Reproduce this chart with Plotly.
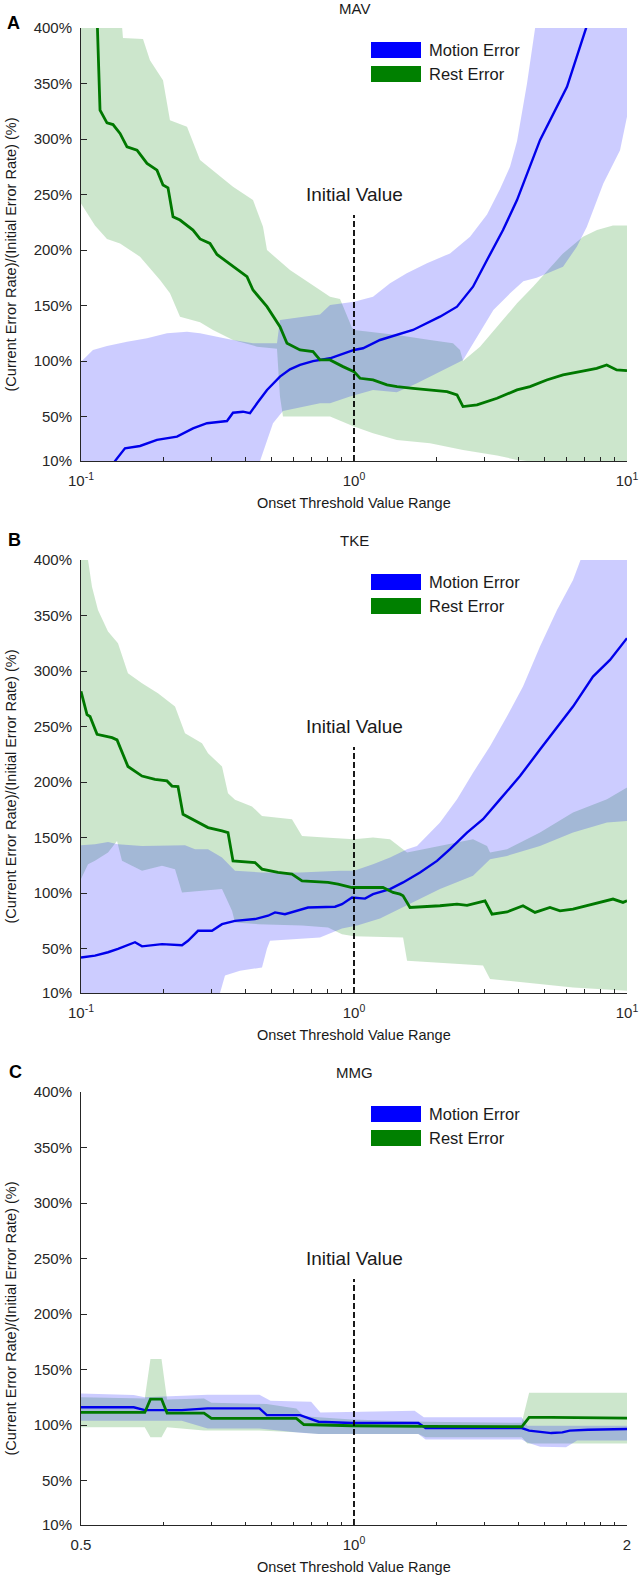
import math
import plotly.graph_objects as go

# ---------------- data: Panel A (MAV) ----------------
A_motion_x = [0.1299, 0.1332, 0.1449, 0.1645, 0.1898, 0.2247, 0.2572, 0.2894, 0.3426, 0.3604, 0.3921,
              0.4159, 0.4414, 0.4801, 0.5356, 0.5828, 0.6342, 0.7077, 0.817, 1.0, 1.0789, 1.2453, 1.6447,
              2.0654, 2.3844, 2.7289, 3.071, 3.5146, 3.9546, 4.4119, 4.8003, 6.0284, 7.1372, 8.0]
A_motion_y = [3, 10, 21.4, 23.5, 29, 32, 39.4, 44, 46, 53.5, 54.4, 53, 62, 74, 86, 92.6, 96.5, 100, 102.5,
              110, 111.5, 119, 128, 140, 149, 167, 191, 218, 245, 275, 299, 347, 400, 440]
A_rest_x = [0.1142, 0.1174, 0.1245, 0.1310, 0.1390, 0.1474, 0.1604, 0.1745, 0.1898, 0.1997, 0.2083, 0.2173,
            0.2305, 0.2572, 0.2729, 0.2968, 0.3149, 0.3604, 0.4056, 0.4266, 0.4801, 0.5356, 0.5682, 0.6342,
            0.7077, 0.7506, 0.817, 0.9114, 1.0, 1.052, 1.1739, 1.3211, 1.4378, 1.6447, 1.8984, 2.1914,
            2.3844, 2.508, 2.8223, 3.3411, 3.9546, 4.4119, 5.0795, 5.8286, 6.7271, 7.7446, 8.4265, 9.168, 10.0]
A_rest_y = [420, 326, 314.5, 313, 305, 293, 290, 278, 272, 258.6, 256, 230, 227, 218, 210, 206, 196, 185,
            176, 164, 149, 131, 116, 110, 108.5, 101, 101, 95, 90.5, 84.5, 83, 78.5, 77, 75.5, 74, 72.5,
            69.5, 59, 60.5, 66.5, 74, 77, 83, 87.5, 90.5, 93.5, 96.5, 92, 91.4]
A_motion_hi_x = [0.1, 0.1106, 0.1245, 0.1474, 0.1745, 0.2065, 0.2445, 0.2729, 0.3149, 0.3604, 0.4266, 0.5223,
                 0.5356, 0.7506, 0.817, 1.0, 1.1739, 1.355, 1.56, 1.85, 2.2475, 2.6607, 3.071, 3.4268, 3.7276,
                 3.9546, 4.3024, 4.602, 4.8003, 10.0]
A_motion_hi_y = [99.5, 110, 113.6, 117.5, 120.5, 125, 126.5, 125, 122, 119, 116, 116, 137, 142, 150.5, 153.5,
                 158, 170, 179, 188, 197, 212, 232, 255, 275, 298, 350, 400, 430, 430]
A_motion_lo_x = [0.1, 0.4414, 0.4527, 0.4801, 0.505, 0.5493, 0.6342, 0.7506, 0.817, 0.9667, 1.174, 1.435, 1.70,
                 1.898, 2.13, 2.38, 2.51, 2.82, 3.24, 3.73, 4.17, 4.67, 5.83, 6.55, 7.13, 8.19, 9.43, 10.0]
A_motion_lo_y = [0, 0, 10, 29, 44, 55, 58, 62, 62, 68, 74, 72, 80, 86, 92, 98, 101, 122, 146, 161, 172, 175,
                 185, 203, 221, 260, 290, 320]
A_rest_hi_x = [0.1, 0.1413, 0.1425, 0.1687, 0.1789, 0.1997, 0.2118, 0.2445, 0.2729, 0.3149, 0.3604, 0.4266,
               0.4642, 0.4801, 0.5828, 0.7506, 0.817, 0.8889, 0.9832, 1.0, 1.4378, 1.8984, 2.3051, 2.4454,
               2.508, 2.8946, 3.3411, 3.9546, 4.5251, 5.8286, 6.8998, 7.7642, 8.8858, 10.0]
A_rest_hi_y = [430, 402, 391, 390, 371, 353, 317, 311, 281, 269, 257, 245, 221, 200, 182, 164, 158, 156, 130,
               128, 123.5, 119, 116, 110, 100, 113, 131, 152, 167, 197, 212, 218, 222, 222]
A_rest_lo_x = [0.1, 0.1125, 0.1245, 0.139, 0.1645, 0.1947, 0.2118, 0.2305, 0.2729, 0.3044, 0.3604, 0.4414,
               0.5223, 0.5356, 0.5493, 0.817, 1.0, 1.174, 1.435, 1.898, 2.508, 3.3411, 3.9546, 4.4119, 10.0]
A_rest_lo_y = [242, 222, 210, 206, 194, 173, 161, 140, 135, 128, 119, 113, 111, 68, 50, 50, 41, 35, 29, 26,
               20, 15, 11, 10, 0]

# ---------------- data: Panel B (TKE) ----------------
B_motion_x = [0.1, 0.1125, 0.1256, 0.1366, 0.1577, 0.1673, 0.198, 0.2344, 0.2466, 0.2683, 0.3019, 0.3285,
              0.3666, 0.4339, 0.4842, 0.5136, 0.5587, 0.6785, 0.8522, 0.9036, 0.9832, 1.0973, 1.1739, 1.355,
              1.5126, 1.7449, 2.0137, 2.2475, 2.5942, 2.9688, 3.4268, 4.056, 4.8003, 5.5408, 6.3419, 7.507,
              8.664, 10.0]
B_motion_y = [42, 43.7, 46.7, 49.7, 55.7, 52, 54, 53, 57, 66, 66, 72, 75, 76.6, 79.6, 82.6, 81, 87, 87.7, 90,
              96, 95, 99, 103.6, 109.6, 118.6, 129, 139.5, 154.5, 166.5, 184.4, 205.4, 229.3, 249, 268, 295,
              310, 329.6]
B_rest_x = [0.1, 0.1052, 0.1079, 0.1145, 0.1299, 0.1355, 0.1486, 0.1673, 0.1866, 0.2065, 0.2154, 0.2266,
            0.2364, 0.2616, 0.2919, 0.3285, 0.3455, 0.3604, 0.4339, 0.4603, 0.5267, 0.5927, 0.645, 0.8033,
            0.874, 0.9832, 1.116, 1.2772, 1.39, 1.4747, 1.5126, 1.6036, 2.0654, 2.3844, 2.5942, 3.0195,
            3.2033, 3.6352, 4.1593, 4.602, 5.2223, 5.6826, 6.3419, 7.507, 8.8858, 9.6678, 10.0]
B_rest_y = [281.7, 260.8, 259, 243, 240, 238, 214, 205.4, 202.4, 201, 196.4, 196, 171, 165, 159, 156, 154.5,
            129, 127.5, 121.6, 118.6, 117, 111, 109.6, 108, 105, 105, 105, 100.6, 99, 97.6, 87, 88.6, 90, 89,
            93, 81, 83, 88.6, 82.6, 87, 84, 85.6, 90, 94.6, 91.6, 93]
B_motion_hi_x = [0.1, 0.1125, 0.1256, 0.1366, 0.1673, 0.198, 0.2404, 0.2616, 0.2919, 0.3285, 0.3666, 0.4603,
                 0.6342, 0.8889, 1.0, 1.1739, 1.355, 1.5646, 1.7012, 2.0654, 2.3844, 2.7289, 3.1497, 3.6352,
                 4.1593, 4.8003, 5.5408, 6.3419, 6.7271, 7.507, 10.0]
B_motion_hi_y = [143, 144, 146, 144, 142.5, 143, 143, 139.5, 139.5, 132, 120, 118.6, 118.6, 120, 120, 126,
                 132, 139.5, 142.5, 163.5, 184.4, 208.4, 232.3, 259.3, 286, 322, 355, 382, 400, 430, 430]
B_motion_lo_x = [0.1, 0.3176, 0.323, 0.3369, 0.3823, 0.4603, 0.4801, 0.4924, 0.5356, 0.6342, 0.7506, 0.9036,
                 1.0344, 1.2453, 1.5646, 2.0654, 2.7289, 3.1497, 3.6352, 4.8003, 6.3419, 8.4477, 10.0]
B_motion_lo_y = [0, 0, 10, 25.7, 30, 33, 50, 57, 58, 59, 60, 68, 71, 77, 88.6, 103.6, 115.6, 130.5, 133.5,
                 142.5, 154.5, 163.5, 165]
B_rest_hi_x = [0.1, 0.1061, 0.1097, 0.1154, 0.1256, 0.1366, 0.1486, 0.1673, 0.1914, 0.221, 0.2404, 0.2775,
               0.2919, 0.3176, 0.3285, 0.3455, 0.3666, 0.423, 0.4603, 0.5927, 0.645, 0.7832, 1.0, 1.1739,
               1.355, 1.5646, 2.0654, 2.7289, 3.071, 3.1497, 3.6352, 4.8003, 6.3419, 8.4477, 10.0]
B_rest_hi_y = [430, 400, 376, 355, 335.6, 325, 298, 289, 280, 268, 244, 235, 226, 217, 214, 190, 184, 178,
               169.5, 166.5, 151.5, 150, 148.5, 150, 148.5, 136.5, 142.5, 148.5, 142.5, 136.5, 139.5, 154.5,
               172.5, 184.4, 195]
B_rest_lo_x = [0.1, 0.1061, 0.1125, 0.1256, 0.1355, 0.1413, 0.1673, 0.198, 0.221, 0.2344, 0.3285, 0.3574,
               0.3666, 0.4451, 0.645, 0.8033, 0.9036, 1.0, 1.5126, 1.5646, 2.9688, 3.1497, 4.8003, 6.3419, 10.0]
B_rest_lo_y = [112.6, 126, 129, 136.5, 147, 129, 120, 124.5, 121.5, 100.6, 103.6, 84, 73.6, 72, 70.7, 69, 63,
               61, 60, 39, 34.7, 22.7, 18, 15, 12]

# ---------------- data: Panel C (MMG) ----------------
C_motion_x = [0.5, 0.5716, 0.5879, 0.6457, 0.6897, 0.7866, 0.8014, 0.872, 0.9139, 0.9944, 1.1773, 1.1995,
              1.5309, 1.5599, 1.6502, 1.6973, 1.7294, 1.8123, 2.0]
C_motion_y = [116, 116, 113.5, 113.5, 115, 115, 109, 109, 103, 101.8, 101.8, 97.3, 97.3, 95, 92.8, 93.4, 95,
              95.8, 96.4]
C_rest_x = [0.5, 0.5879, 0.5964, 0.6134, 0.6221, 0.6833, 0.6963, 0.8639, 0.8803, 0.9944, 1.1995, 1.5309,
            1.5599, 1.6502, 2.0]
C_rest_y = [111.4, 111.4, 123.4, 123.4, 110.8, 110.8, 106, 106, 100.5, 99.4, 98.8, 98.5, 107, 107, 106.3]
C_motion_hi_x = [0.5, 0.5716, 0.5879, 0.6457, 0.6897, 0.7866, 0.809, 0.8969, 0.9182, 1.1663, 1.194, 1.5309,
                 1.5526, 2.0]
C_motion_hi_y = [128.5, 127, 125, 126.4, 127.3, 127.3, 122, 121, 111.4, 113, 107, 107, 99.4, 99.4]
C_motion_lo_x = [0.5, 0.6457, 0.6897, 0.7866, 0.872, 0.9139, 1.1773, 1.1995, 1.5309, 1.5526, 1.6043, 1.7133,
                 1.762, 2.0]
C_motion_lo_y = [104, 104, 97, 97, 93, 92, 92, 87, 87, 84.4, 80.5, 80, 86, 86]
C_rest_hi_x = [0.5, 0.5879, 0.5964, 0.6134, 0.6221, 0.6833, 0.6963, 0.8014, 0.8639, 0.8803, 0.9944, 1.1995,
               1.5309, 1.5599, 2.0]
C_rest_hi_y = [125, 124, 159.5, 159.5, 123, 124, 120, 119, 115, 108, 105, 103, 102, 129, 129]
C_rest_lo_x = [0.5, 0.5879, 0.5964, 0.6134, 0.6221, 0.6833, 0.7866, 0.872, 0.9139, 1.1773, 1.1995,
               1.5309, 1.5526, 2.0]
C_rest_lo_y = [98, 98, 89, 89, 98, 95, 95, 93.4, 92, 92, 89, 89, 83.5, 83.5]

# ---------------- labels / reference ----------------
PANEL_LETTERS = ["A", "B", "C"]
PANEL_TITLES = ["MAV", "TKE", "MMG"]
Y_TICKS = [10, 50, 100, 150, 200, 250, 300, 350, 400]
Y_TICKTEXT = ["10%", "50%", "100%", "150%", "200%", "250%", "300%", "350%", "400%"]
X_TICKS_AB = [0.1, 1, 10]
X_TICKTEXT_AB = ["10<sup>-1</sup>", "10<sup>0</sup>", "10<sup>1</sup>"]
X_TICKS_C = [0.5, 1, 2]
X_TICKTEXT_C = ["0.5", "10<sup>0</sup>", "2"]
INIT_X = 1.0
INIT_LINE_Y = [10, 231.6]
INIT_LABEL_Y = 250
LEGEND_NAMES = ["Motion Error", "Rest Error"]

FONT = "Arial, 'Liberation Sans', Helvetica, sans-serif"
AX = "#262626"
BLUE_FILL = "rgba(0,0,255,0.2)"
GREEN_FILL = "rgba(0,128,0,0.2)"
BLUE_LINE = "rgb(0,0,235)"
GREEN_LINE = "rgb(0,120,0)"

W, H = 641, 1577
ML, MR, MT, MB = 81, 14, 28, 52
PH = 433.0  # plot height px
PW = W - ML - MR

# panel-letter placement (px from left edge, px above plot top)
LETTER_POS = [(13.5, 5.5), (14.0, 20.0), (15.0, 19.5)]

panels = [
    dict(mx=A_motion_x, my=A_motion_y, rx=A_rest_x, ry=A_rest_y,
         mhx=A_motion_hi_x, mhy=A_motion_hi_y, mlx=A_motion_lo_x, mly=A_motion_lo_y,
         rhx=A_rest_hi_x, rhy=A_rest_hi_y, rlx=A_rest_lo_x, rly=A_rest_lo_y, dom=[0.71076, 1.0]),
    dict(mx=B_motion_x, my=B_motion_y, rx=B_rest_x, ry=B_rest_y,
         mhx=B_motion_hi_x, mhy=B_motion_hi_y, mlx=B_motion_lo_x, mly=B_motion_lo_y,
         rhx=B_rest_hi_x, rhy=B_rest_hi_y, rlx=B_rest_lo_x, rly=B_rest_lo_y, dom=[0.35538, 0.64462]),
    dict(mx=C_motion_x, my=C_motion_y, rx=C_rest_x, ry=C_rest_y,
         mhx=C_motion_hi_x, mhy=C_motion_hi_y, mlx=C_motion_lo_x, mly=C_motion_lo_y,
         rhx=C_rest_hi_x, rhy=C_rest_hi_y, rlx=C_rest_lo_x, rly=C_rest_lo_y, dom=[0.0, 0.28925]),
]

fig = go.Figure()
annotations = []
shapes = []

minor_base = [0.2, 0.3, 0.4, 0.5, 0.6, 0.7, 0.8, 0.9, 2, 3, 4, 5, 6, 7, 8, 9]

for i, p in enumerate(panels):
    s = "" if i == 0 else str(i + 1)
    xa, ya = "x" + s, "y" + s
    # bands
    fig.add_trace(go.Scatter(x=p["rhx"] + p["rlx"][::-1], y=p["rhy"] + p["rly"][::-1], xaxis=xa, yaxis=ya,
                             mode="lines", fill="toself", fillcolor=GREEN_FILL, line=dict(width=0),
                             showlegend=False, hoverinfo="skip"))
    fig.add_trace(go.Scatter(x=p["mhx"] + p["mlx"][::-1], y=p["mhy"] + p["mly"][::-1], xaxis=xa, yaxis=ya,
                             mode="lines", fill="toself", fillcolor=BLUE_FILL, line=dict(width=0),
                             showlegend=False, hoverinfo="skip"))
    # mean lines
    fig.add_trace(go.Scatter(x=p["mx"], y=p["my"], xaxis=xa, yaxis=ya, mode="lines",
                             line=dict(color=BLUE_LINE, width=2.4), name=LEGEND_NAMES[0], showlegend=False))
    fig.add_trace(go.Scatter(x=p["rx"], y=p["ry"], xaxis=xa, yaxis=ya, mode="lines",
                             line=dict(color=GREEN_LINE, width=2.8), name=LEGEND_NAMES[1], showlegend=False))
    # initial value line
    fig.add_trace(go.Scatter(x=[INIT_X, INIT_X], y=INIT_LINE_Y, xaxis=xa, yaxis=ya, mode="lines",
                             line=dict(color="black", width=1.8, dash="6px,3px"), showlegend=False,
                             hoverinfo="skip"))

    if i < 2:
        xr = [-1, 1]
        tv, tt = X_TICKS_AB, X_TICKTEXT_AB
        minor_vals = list(minor_base)
    else:
        xr = [math.log10(0.5), math.log10(2)]
        tv, tt = X_TICKS_C, X_TICKTEXT_C
        minor_vals = [2 ** math.log10(t) for t in minor_base]

    fig.update_layout(**{
        ("xaxis" + s): dict(
            type="log", range=xr, domain=[0, 1], anchor=ya, showline=True, linecolor=AX, linewidth=1,
            ticks="inside", ticklen=5, tickwidth=1, tickcolor=AX, showgrid=False, zeroline=False,
            tickmode="array", tickvals=tv, ticktext=tt, tickfont=dict(family=FONT, size=15, color=AX),
            ticklabelstandoff=6, automargin=False, fixedrange=True,
            minor=dict(tickmode="array", tickvals=minor_vals, ticks="inside", ticklen=3.5,
                       tickcolor=AX, tickwidth=1, showgrid=False)),
        ("yaxis" + s): dict(
            range=[10, 400], domain=p["dom"], anchor=xa, showline=True, linecolor=AX, linewidth=1,
            ticks="inside", ticklen=6, tickwidth=1, tickcolor=AX, showgrid=False, zeroline=False,
            tickmode="array", tickvals=Y_TICKS, ticktext=Y_TICKTEXT,
            tickfont=dict(family=FONT, size=15, color=AX), ticklabelstandoff=5, automargin=False,
            fixedrange=True),
    })

    xd, yd = xa + " domain", ya + " domain"
    top_off = 1 + 19.5 / PH
    lx, ly = LETTER_POS[i]
    annotations += [
        dict(text="<b>%s</b>" % PANEL_LETTERS[i], xref=xd, yref=yd, x=(lx - ML) / PW, y=1 + ly / PH,
             xanchor="center", yanchor="middle", showarrow=False, font=dict(family=FONT, size=18, color="black")),
        dict(text=PANEL_TITLES[i], xref=xd, yref=yd, x=0.5, y=top_off, xanchor="center", yanchor="middle",
             showarrow=False, font=dict(family=FONT, size=15, color="#1a1a1a")),
        dict(text="Onset Threshold Value Range", xref=xd, yref=yd, x=0.5, y=-42 / PH, xanchor="center",
             yanchor="middle", showarrow=False, font=dict(family=FONT, size=14.5, color="#1a1a1a")),
        dict(text="(Current Error Rate)/(Initial Error Rate) (%)", xref=xd, yref=yd, x=(11 - ML) / PW,
             y=0.477, textangle=-90, xanchor="center", yanchor="middle", showarrow=False,
             font=dict(family=FONT, size=14.5, color="#1a1a1a")),
        dict(text="Initial Value", xref=xa, yref=ya, x=math.log10(INIT_X), y=INIT_LABEL_Y, xanchor="center",
             yanchor="middle", showarrow=False, font=dict(family=FONT, size=19, color="#1a1a1a")),
    ]
    # legend (manual, matching the MATLAB-style wide swatches)
    sx0, sx1 = (371 - ML) / PW, (421 - ML) / PW
    for k, (col, name) in enumerate([("rgb(0,0,255)", LEGEND_NAMES[0]), ("rgb(0,128,0)", LEGEND_NAMES[1])]):
        t_px = 14 + 24 * k
        shapes.append(dict(type="rect", xref=xd, yref=yd, x0=sx0, x1=sx1, y0=1 - (t_px + 16) / PH,
                           y1=1 - t_px / PH, fillcolor=col, line=dict(width=0), layer="above"))
        annotations.append(dict(text=name, xref=xd, yref=yd, x=(427 - ML) / PW, y=1 - (t_px + 8) / PH,
                                xanchor="left", yanchor="middle", showarrow=False,
                                font=dict(family=FONT, size=16.5, color="#1a1a1a")))

fig.update_layout(
    width=W, height=H, margin=dict(l=ML, r=MR, t=MT, b=MB, autoexpand=False),
    paper_bgcolor="white", plot_bgcolor="white", showlegend=False,
    annotations=annotations, shapes=shapes, font=dict(family=FONT),
)

fig.write_html(
    "out.html",
    config={"displayModeBar": False, "staticPlot": True},
    post_script="document.body.style.margin='0';document.body.style.padding='0';"
                "document.documentElement.style.overflow='hidden';",
)
